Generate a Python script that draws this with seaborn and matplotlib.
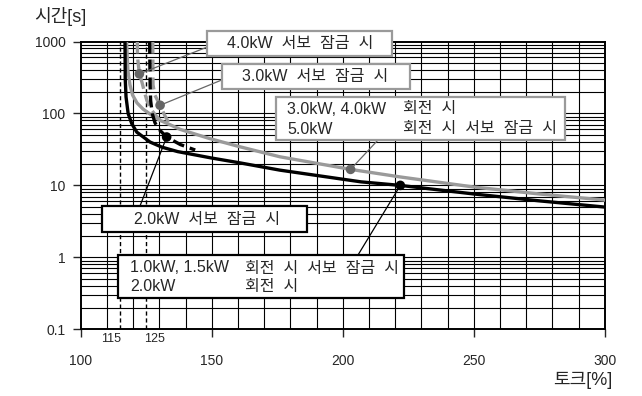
import numpy as np
import pandas as pd
import matplotlib
matplotlib.use("Agg")
import matplotlib.pyplot as plt
from matplotlib.patches import Rectangle
from matplotlib.ticker import FixedLocator, NullFormatter
import seaborn as sns

# ---- overload characteristics: torque [%] vs. allowable time [s] ----
# 1.0kW, 1.5kW rotating / servo lock, 2.0kW rotating
rot_small_torque = [116.9, 117.0, 117.3, 118.1, 119.5, 121.4, 126.5, 131.0, 137.0,
                    150.0, 161.0, 176.0, 207.0, 222.0, 250.0, 275.0, 300.0]
rot_small_time = [1000, 300, 170, 100, 72, 55, 40, 34, 29.5,
                  24, 20.5, 16.3, 11.2, 10.0, 7.6, 6.1, 5.0]

# 3.0kW, 4.0kW rotating / 5.0kW rotating and servo lock
rot_large_torque = [117.5, 118.0, 118.8, 119.8, 121.5, 123.8, 127.0, 130.3, 134.0,
                    138.0, 149.0, 160.0, 176.0, 203.0, 222.0, 250.0, 275.0, 300.0]
rot_large_time = [1000, 400, 250, 180, 140, 115, 95, 80, 70,
                  60, 45, 35, 25, 16.7, 13.1, 9.5, 7.6, 6.25]

# 4.0kW servo lock
lock_4kw_torque = [121.6, 121.7, 122.4, 123.4, 124.3, 125.3, 126.8, 128.5, 130.3]
lock_4kw_time = [1000, 600, 355, 270, 200, 150, 115, 95, 80]

# 3.0kW servo lock
lock_3kw_torque = [127.5, 127.6, 128.3, 130.3, 132.0, 134.0]
lock_3kw_time = [1000, 250, 180, 130, 95, 70]

# 2.0kW servo lock
lock_2kw_torque = [126.3, 126.4, 126.5, 126.7, 127.3, 128.3, 129.5, 132.8, 138.0, 143.7]
lock_2kw_time = [1000, 500, 250, 150, 100, 75, 62, 47, 37, 31]

# labelled points on the curves
marker_torque = [122.4, 130.3, 132.8, 203.0, 222.0]
marker_time = [355, 130, 47, 16.7, 10.0]

x_ticks = [100, 150, 200, 250, 300]
y_ticks = [0.1, 1, 10, 100, 1000]
y_tick_labels = ["0.1", "1", "10", "100", "1000"]
ref_lines = [115, 125]

sns.set_style("white")
plt.rcParams["font.family"] = ["Liberation Sans", "Noto Sans CJK KR"]

W, H = 642, 396
fig = plt.figure(figsize=(W / 100, H / 100), dpi=100)
ax = fig.add_axes([80.7 / W, 1 - 329.3 / H, 524 / W, 287.8 / H])


def fxy(px, py):
    """figure-fraction position from pixel position (origin top-left)"""
    return px / W, 1 - py / H


BLACK = "#000000"
GRAY = "#9a9a9a"
DARK = "#666666"

# grid
for v in range(110, 300, 10):
    ax.axvline(v, color=BLACK, lw=0.8, zorder=1)
for dec in [0.1, 1, 10, 100]:
    for m in range(1, 10):
        ax.axhline(dec * m, color=BLACK, lw=0.8, zorder=1)
for r in ref_lines:
    ax.axvline(r, color=BLACK, lw=1.0, ls=(0, (3, 2)), zorder=2)

curves = [
    (rot_large_torque, rot_large_time, GRAY, "-", 3),
    (rot_small_torque, rot_small_time, BLACK, "-", 4),
    (lock_4kw_torque, lock_4kw_time, GRAY, "--", 5),
    (lock_3kw_torque, lock_3kw_time, GRAY, "--", 5),
    (lock_2kw_torque, lock_2kw_time, BLACK, "--", 6),
]
for xs, ys, col, ls, z in curves:
    df = pd.DataFrame({"torque": xs, "time": ys})
    sns.lineplot(data=df, x="torque", y="time", ax=ax, color=col, lw=2.4,
                 sort=False, estimator=None, zorder=z,
                 linestyle="-" if ls == "-" else (0, (3.6, 1.8)))

marker_colors = [DARK, DARK, BLACK, DARK, BLACK]
mdf = pd.DataFrame({"torque": marker_torque, "time": marker_time, "c": range(5)})
sns.scatterplot(data=mdf, x="torque", y="time", hue="c", palette=marker_colors,
                s=48, edgecolor="none", legend=False, ax=ax, zorder=8)

ax.set_yscale("log")
ax.set_xlim(100, 300)
ax.set_ylim(0.1, 1000)
ax.set_xlabel("")
ax.set_ylabel("")
ax.xaxis.set_major_locator(FixedLocator(x_ticks))
ax.set_xticklabels([str(v) for v in x_ticks])
ax.yaxis.set_major_locator(FixedLocator(y_ticks))
ax.yaxis.set_minor_locator(FixedLocator([]))
ax.yaxis.set_minor_formatter(NullFormatter())
ax.set_yticklabels(y_tick_labels)
ax.tick_params(axis="x", direction="out", length=5.5, width=1, pad=12,
               labelsize=10, bottom=True)
ax.tick_params(axis="y", direction="out", length=6, width=1, pad=5,
               labelsize=10, left=True)
for s in ax.spines.values():
    s.set_linewidth(1.4)
    s.set_color(BLACK)

# small labels for the reference torque lines
ax.text(115.4, -0.012, "115", transform=ax.get_xaxis_transform(),
        ha="right", va="top", fontsize=9)
ax.text(124.3, -0.012, "125", transform=ax.get_xaxis_transform(),
        ha="left", va="top", fontsize=9)

fig.text(*fxy(34, 16), "시간[s]", ha="left", va="center", fontsize=13)
fig.text(*fxy(612, 380), "토크[%]", ha="right", va="center", fontsize=13)


def box(x0, y0, x1, y1, ec):
    fx0, fy1 = fxy(x0, y1)
    fx1, fy0 = fxy(x1, y0)
    fig.patches.append(Rectangle((fx0, fy1), fx1 - fx0, fy0 - fy1,
                                 transform=fig.transFigure, facecolor="white",
                                 edgecolor=ec, lw=1.6, zorder=10))


def label(px, py, s, ha="left"):
    fig.text(*fxy(px, py), s, ha=ha, va="center", fontsize=11.5, zorder=11)


def leader(i, px, py, col):
    ax.annotate("", xy=(marker_torque[i], marker_time[i]), xycoords="data",
                xytext=fxy(px, py), textcoords="figure fraction",
                arrowprops=dict(arrowstyle="-", color=col, lw=0.9,
                                shrinkA=0, shrinkB=0),
                annotation_clip=False, zorder=7)


leader(0, 207.3, 47, DARK)
leader(1, 221.7, 80, DARK)
leader(3, 378, 140, DARK)
leader(2, 140, 206, BLACK)
leader(4, 358, 255, BLACK)

box(207.3, 31, 391.7, 55.5, GRAY)
label(227, 43.5, "4.0kW  서보  잠금  시")
box(221.7, 64.3, 410, 89.3, GRAY)
label(242, 77, "3.0kW  서보  잠금  시")
box(275.7, 96.7, 565, 140, GRAY)
label(287, 109, "3.0kW, 4.0kW")
label(403, 109, "회전  시")
label(287, 129, "5.0kW")
label(403, 129, "회전  시  서보  잠금  시")
box(102.3, 206, 306.7, 232.3, BLACK)
label(134, 219.5, "2.0kW  서보  잠금  시")
box(118.3, 255, 404, 297.7, BLACK)
label(130, 268, "1.0kW, 1.5kW")
label(245, 268, "회전  시  서보  잠금  시")
label(130, 286.5, "2.0kW")
label(245, 286.5, "회전  시")

fig.savefig("out.png", dpi=100)
